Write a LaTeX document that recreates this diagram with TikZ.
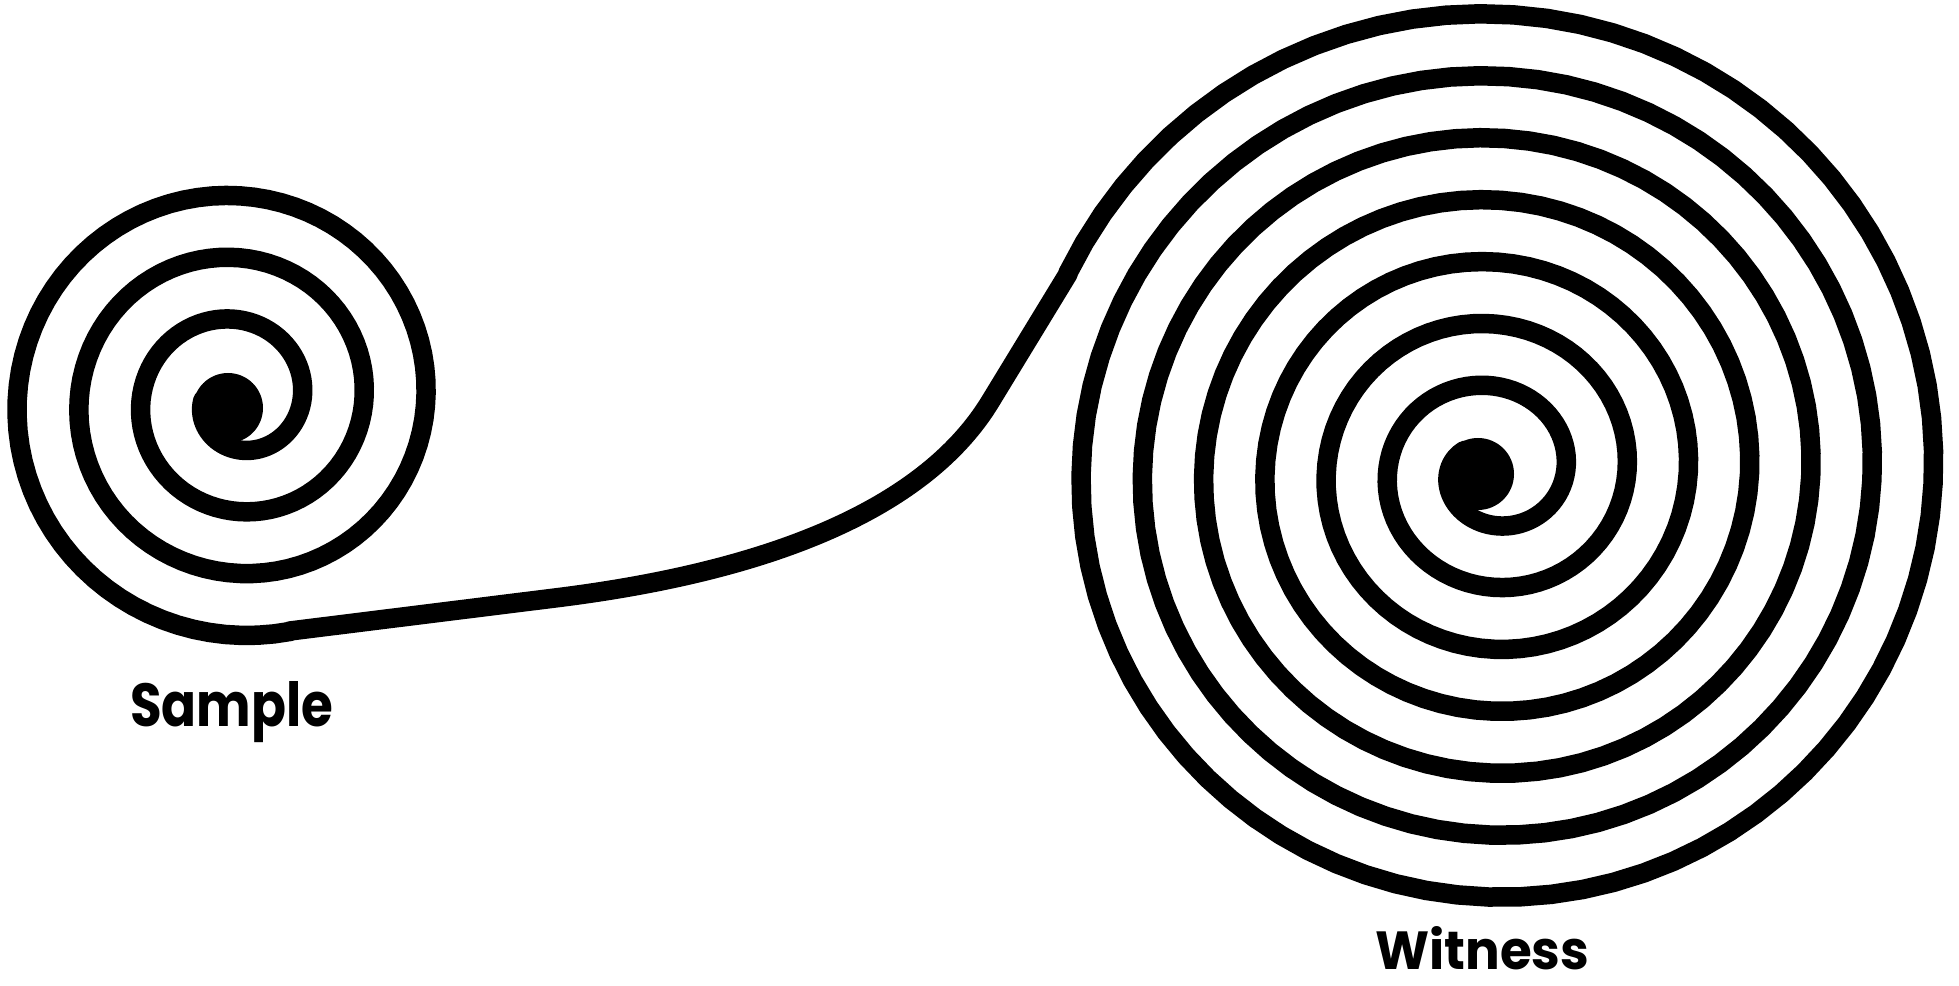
\documentclass[tikz,border=0pt]{standalone}
\usepackage{fontspec}
\usepackage{graphicx}
\newfontfamily\labfont{Poppins}
\tikzset{
  coil/.style={line width=19.5pt, line join=round, line cap=round, draw=black},
  hub/.style={fill=black},
  lbl/.style={anchor=base west, inner sep=0pt, text=black}
}
\begin{document}
\begin{tikzpicture}[x=1pt,y=1pt]
\useasboundingbox (0,0) rectangle (1959,985);
\fill[white] (0,0) rectangle (1959,985);
% left spiral, connector, right spiral as one continuous stroke
\draw[coil] plot[domain=-180:1003, samples=300, variable=\t]
      ({237+(65+0.172*\t)*cos(\t)},{585+(65+0.172*\t)*sin(\t)})
  -- (290,354) -- (555,387)
  .. controls (790,416) and (930,485) .. (990,583)
  -- (1068,711)
  -- plot[domain=2675:140, samples=600, variable=\t]
      ({1492+(12.4+0.1703*\t)*cos(\t)},{514+(7.7+0.1722*\t)*sin(\t)});
% centre dots
\fill[hub] (228,577) circle[radius=35];
\fill[hub] (1478,511) circle[radius=36];
% labels
\node[lbl] (sample) at (130,258) {\resizebox{203pt}{45pt}{\labfont\bfseries Sample}};
\node[lbl] (witness) at (1375,16) {\resizebox{214pt}{43pt}{\labfont\bfseries Witness}};
\end{tikzpicture}
\end{document}
